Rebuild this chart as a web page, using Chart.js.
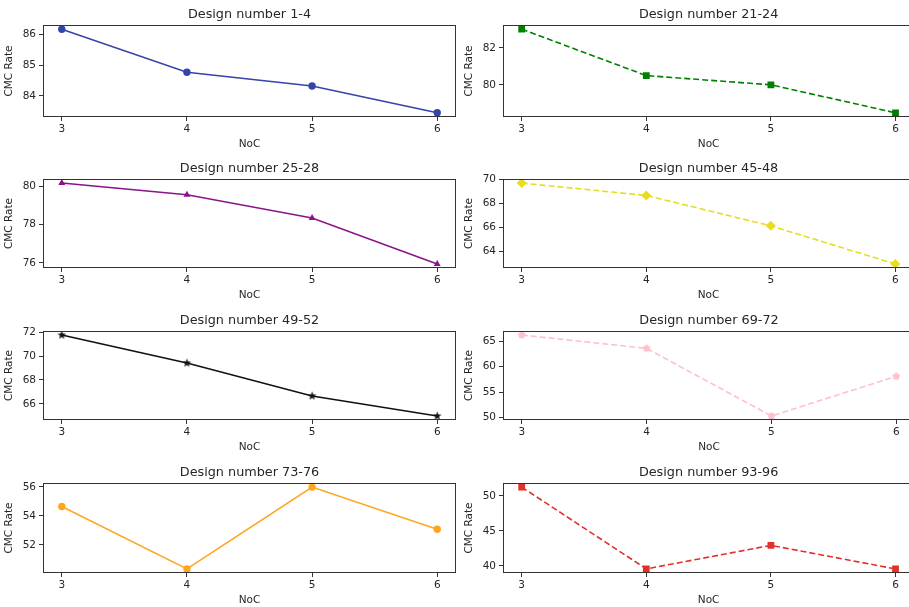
<!DOCTYPE html>
<html>
<head>
<meta charset="utf-8">
<script src="https://cdn.jsdelivr.net/npm/chart.js@4.4.0/dist/chart.umd.min.js"></script>
<style>
  body { margin: 0; background: #fff; }
  #wrap { position: relative; width: 909px; height: 607px; overflow: hidden; background: #fff; }
  #wrap canvas { position: absolute; }
</style>
</head>
<body>
<div id="wrap"></div>
<script>
const noc = [3, 4, 5, 6];
const titles = ["Design number 1-4", "Design number 21-24", "Design number 25-28", "Design number 45-48",
  "Design number 49-52", "Design number 69-72", "Design number 73-76", "Design number 93-96"];

const design1_4 = [86.17, 84.77, 84.32, 83.45];
const design21_24 = [83.02, 80.5, 80.0, 78.48];
const design25_28 = [80.18, 79.57, 78.35, 75.95];
const design45_48 = [69.72, 68.68, 66.14, 62.95];
const design49_52 = [71.75, 69.42, 66.67, 65.0];
const design69_72 = [66.23, 63.6, 50.3, 58.1];
const design73_76 = [54.64, 50.34, 55.98, 53.07];
const design93_96 = [51.25, 39.57, 42.93, 39.57];

const yTicks1_4 = [84, 85, 86];
const yTicks21_24 = [80, 82];
const yTicks25_28 = [76, 78, 80];
const yTicks45_48 = [64, 66, 68, 70];
const yTicks49_52 = [66, 68, 70, 72];
const yTicks69_72 = [50, 55, 60, 65];
const yTicks73_76 = [52, 54, 56];
const yTicks93_96 = [40, 45, 50];

// small canvases used as custom point styles (filled star / pentagon)
function polyMarker(color, n, rOut, rIn) {
  const s = Math.ceil(rOut * 2 + 2);
  const c = document.createElement("canvas");
  c.width = s; c.height = s;
  const g = c.getContext("2d");
  g.fillStyle = color;
  g.beginPath();
  const pts = rIn ? n * 2 : n;
  for (let k = 0; k < pts; k++) {
    const r = rIn && k % 2 ? rIn : rOut;
    const a = -Math.PI / 2 + k * 2 * Math.PI / pts;
    const px = s / 2 + r * Math.cos(a), py = s / 2 + r * Math.sin(a);
    k ? g.lineTo(px, py) : g.moveTo(px, py);
  }
  g.closePath();
  g.fill();
  return c;
}

const panels = [
  { title: titles[0], values: design1_4, ticks: yTicks1_4, color: "#3444a9", dash: [], marker: "circle", radius: 3.7 },
  { title: titles[1], values: design21_24, ticks: yTicks21_24, color: "#008000", dash: [6, 3], marker: "rect", radius: 4.8 },
  { title: titles[2], values: design25_28, ticks: yTicks25_28, color: "#8a158a", dash: [], marker: "triangle", radius: 4 },
  { title: titles[3], values: design45_48, ticks: yTicks45_48, color: "#e8dc22", dash: [6, 3], marker: "rectRot", radius: 5 },
  { title: titles[4], values: design49_52, ticks: yTicks49_52, color: "#111111", dash: [], marker: polyMarker("#111111", 5, 4.5, 1.9), radius: 4 },
  { title: titles[5], values: design69_72, ticks: yTicks69_72, color: "#ffc0cb", dash: [6, 3], marker: polyMarker("#ffc0cb", 5, 4, 0), radius: 4 },
  { title: titles[6], values: design73_76, ticks: yTicks73_76, color: "#ffa51f", dash: [], marker: "circle", radius: 3.7 },
  { title: titles[7], values: design93_96, ticks: yTicks93_96, color: "#e3302a", dash: [6, 3], marker: "rect", radius: 4.8 }
];

const rowTops = [25, 179, 331, 483];
const rowHeights = [92, 89, 89, 90];
const font = "DejaVu Sans";
const ink = "#262626";

const framePlugin = {
  id: "frame",
  afterDatasetsDraw(chart) {
    const a = chart.chartArea, ctx = chart.ctx;
    ctx.save();
    ctx.strokeStyle = "#333";
    ctx.lineWidth = 1;
    ctx.strokeRect(Math.round(a.left) + 0.5, Math.round(a.top) + 0.5,
      Math.round(a.right - a.left) - 1, Math.round(a.bottom - a.top) - 1);
    ctx.fillStyle = ink;
    ctx.font = "12.8px '" + font + "'";
    ctx.textAlign = "center";
    ctx.textBaseline = "middle";
    ctx.fillText(chart.options.plugins.frame.text, (a.left + a.right) / 2, a.top - 10);
    ctx.restore();
  }
};

const wrap = document.getElementById("wrap");

panels.forEach((p, i) => {
  const col = i % 2, row = Math.floor(i / 2);
  const cv = document.createElement("canvas");
  const left = col ? 460 : 0;
  // right column runs past the page edge, as in the cropped original
  const width = col ? 459 : 460;
  const height = 26 + rowHeights[row] + 40;
  cv.width = width; cv.height = height;
  cv.style.left = left + "px";
  cv.style.top = (rowTops[row] - 26) + "px";
  wrap.appendChild(cv);

  const lo = Math.min(...p.values), hi = Math.max(...p.values);
  const pad = (hi - lo) * 0.05;

  new Chart(cv, {
    type: "line",
    data: {
      datasets: [{
        data: noc.map((x, k) => ({ x: x, y: p.values[k] })),
        borderColor: p.color,
        backgroundColor: p.color,
        borderWidth: 1.6,
        borderDash: p.dash,
        pointStyle: p.marker,
        pointRadius: p.radius,
        pointBorderWidth: 0,
        pointBackgroundColor: p.color,
        tension: 0
      }]
    },
    options: {
      responsive: false,
      animation: false,
      layout: { padding: { top: 26, right: 0, bottom: 2, left: 0 } },
      plugins: {
        legend: { display: false },
        tooltip: { enabled: false },
        frame: { text: p.title }
      },
      scales: {
        x: {
          type: "linear",
          min: 2.85,
          max: 6.15,
          afterBuildTicks: s => { s.ticks = noc.map(v => ({ value: v })); },
          afterFit: s => { s.height = 38; },
          grid: { drawOnChartArea: false, tickLength: 4, color: "#333" },
          border: { display: false },
          ticks: { color: ink, padding: 2, font: { family: font, size: 10.5 }, callback: v => String(v) },
          title: { display: true, text: "NoC", color: ink, padding: { top: 0, bottom: 4 }, font: { family: font, size: 10.5 } }
        },
        y: {
          min: lo - pad,
          max: hi + pad,
          afterBuildTicks: s => { s.ticks = p.ticks.map(v => ({ value: v })); },
          afterFit: s => { s.width = 43; },
          grid: { drawOnChartArea: false, tickLength: 4, color: "#333" },
          border: { display: false },
          ticks: { color: ink, padding: 3, font: { family: font, size: 10.5 }, callback: v => String(v) },
          title: { display: true, text: "CMC Rate", color: ink, padding: { top: 3, bottom: 0 }, font: { family: font, size: 10.5 } }
        }
      }
    },
    plugins: [framePlugin]
  });
});
</script>
</body>
</html>
